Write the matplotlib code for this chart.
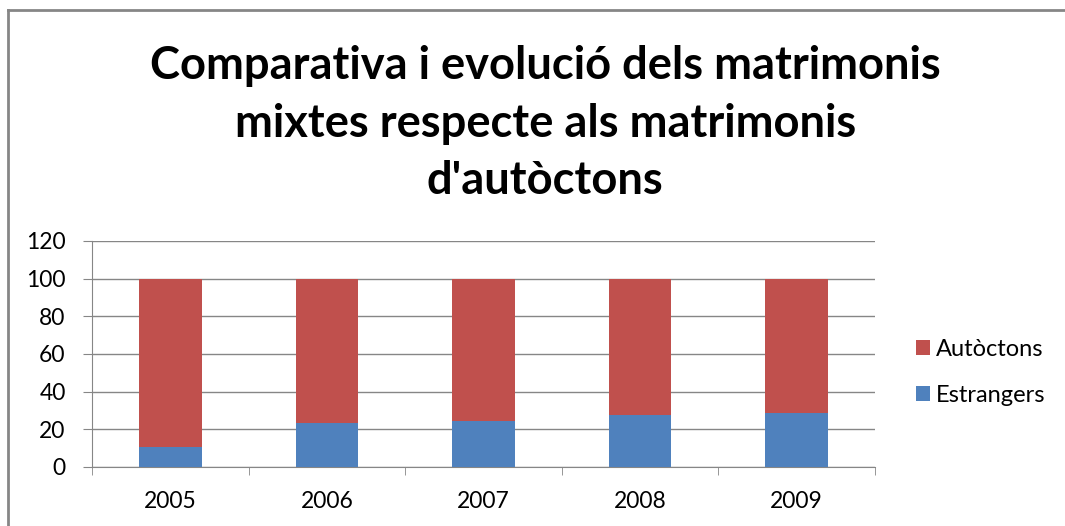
import matplotlib.pyplot as plt
import numpy as np
from matplotlib.lines import Line2D

years = ['2005', '2006', '2007', '2008', '2009']
estrangers = [10.4, 23.1, 24.3, 27.8, 28.5]
autoctons = [100 - v for v in estrangers]

title_lines = ['Comparativa i evolució dels matrimonis',
               'mixtes respecte als matrimonis',
               "d'autòctons"]

plt.rcParams['font.family'] = ['Lato', 'DejaVu Sans']

BLUE = '#4f81bd'
RED = '#c0504d'
GREY = '#868686'


def main():
    fig = plt.figure(figsize=(10.65, 5.26), dpi=100)
    ax = fig.add_axes([0.0864, 0.1122, 0.7352, 0.4297])

    x = np.arange(len(years))
    ax.bar(x, estrangers, width=0.4, color=BLUE, label='Estrangers', zorder=3)
    ax.bar(x, autoctons, width=0.4, bottom=estrangers, color=RED,
           label='Autòctons', zorder=3)

    ax.set_xlim(-0.5, len(years) - 0.5)
    ax.set_ylim(0, 120)
    ax.set_yticks(range(0, 121, 20))
    ax.set_xticks(x)
    ax.set_xticklabels(years)
    ax.set_xticks(np.arange(-0.5, len(years)), minor=True)
    ax.tick_params(axis='x', which='major', length=0, pad=17, labelsize=16.5)
    ax.tick_params(axis='x', which='minor', length=6, color=GREY)
    ax.tick_params(axis='y', length=6.5, color=GREY, labelsize=16.5, pad=12.5)
    ax.grid(True, axis='y', color=GREY, linewidth=1, zorder=0)
    for side in ('top', 'right'):
        ax.spines[side].set_visible(False)
    for side in ('left', 'bottom'):
        ax.spines[side].set_color(GREY)

    for i, line in enumerate(title_lines):
        fig.text(0.512, 0.874 - i * 0.109, line, ha='center', va='center',
                 fontsize=32.6, fontweight='bold')

    handles, labels = ax.get_legend_handles_labels()
    fig.legend(handles[::-1], labels[::-1], loc='center left',
               bbox_to_anchor=(0.860, 0.2918), frameon=False, fontsize=17,
               borderpad=0, borderaxespad=0, handlelength=0.6,
               handleheight=0.6, handletextpad=0.25, labelspacing=1.05)

    fig.add_artist(Line2D([8 / 1065, 1.0], [1 - 10 / 526] * 2, color=GREY,
                          linewidth=2, transform=fig.transFigure))
    fig.add_artist(Line2D([8 / 1065] * 2, [0.0, 1 - 10 / 526], color=GREY,
                          linewidth=2, transform=fig.transFigure))

    fig.savefig('out.png', dpi=100)


if __name__ == '__main__':
    main()
